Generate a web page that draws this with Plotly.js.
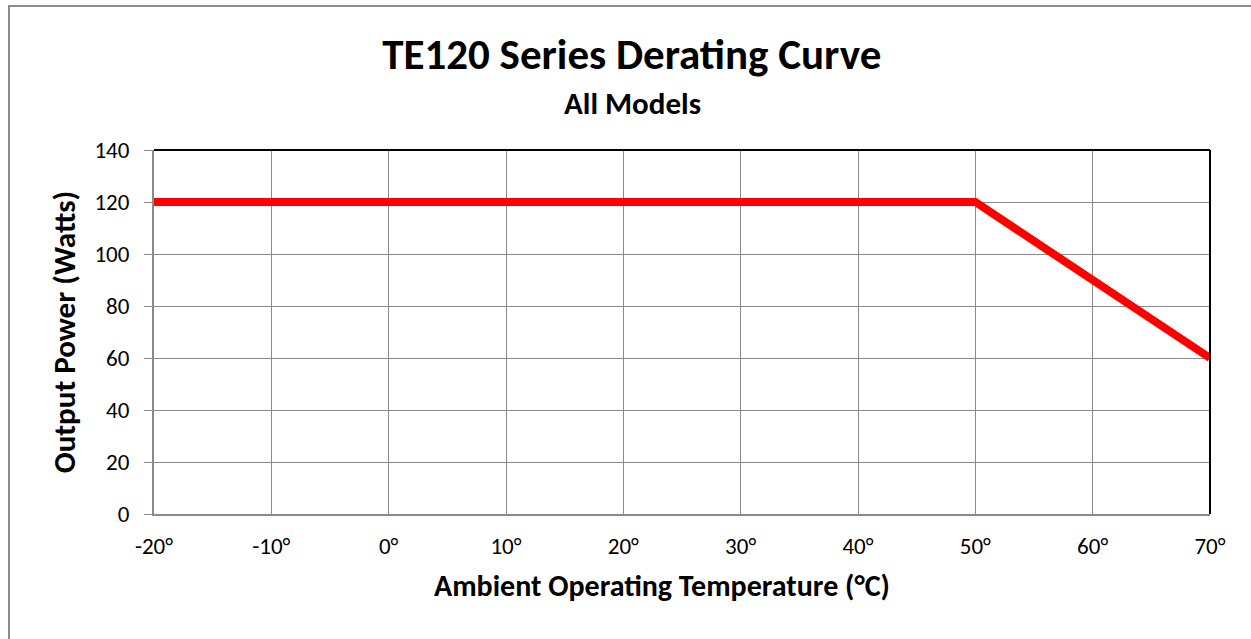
<!DOCTYPE html>
<html>
<head>
<meta charset="utf-8">
<script src="https://cdn.plot.ly/plotly-3.0.1.min.js"></script>
<style>
html,body{margin:0;padding:0;overflow:hidden;background:#fff;}
#chart{width:1251px;height:639px;}
#frame{position:absolute;left:8px;top:5px;width:1400px;height:800px;border:2px solid #8c8c8c;pointer-events:none;}
</style>
</head>
<body>
<div id="chart"></div>
<div id="frame"></div>
<script>
const temperature = [-20, 50, 70];
const outputPower = [120, 120, 60];
const xTickVals = [-20, -10, 0, 10, 20, 30, 40, 50, 60, 70];
const xTickText = ['-20°', '-10°', '0°', '10°', '20°', '30°', '40°', '50°', '60°', '70°'];
const yTickVals = [0, 20, 40, 60, 80, 100, 120, 140];

const FONT = 'Carlito, Lato, "Open Sans", sans-serif';

const trace = {
  x: temperature,
  y: outputPower,
  type: 'scatter',
  mode: 'lines',
  line: {color: '#ff0000', width: 8},
  hoverinfo: 'x+y',
  cliponaxis: true
};

const layout = {
  width: 1251,
  height: 639,
  paper_bgcolor: '#ffffff',
  plot_bgcolor: '#ffffff',
  margin: {l: 154, r: 41, t: 150, b: 125},
  showlegend: false,
  font: {family: FONT, color: '#000000'},
  title: {
    text: '<b>TE120 Series Derating Curve</b>',
    font: {family: FONT, size: 43, color: '#000'},
    x: 0.505, xref: 'container', xanchor: 'center',
    y: 1 - 54/639, yref: 'container', yanchor: 'middle'
  },
  xaxis: {
    range: [-20, 70],
    tickvals: xTickVals,
    ticktext: xTickText,
    tickfont: {family: FONT, size: 23, color: '#000'},
    showgrid: true,
    gridcolor: '#8a8a8a',
    gridwidth: 1,
    zeroline: false,
    showline: true,
    linecolor: '#8a8a8a',
    linewidth: 2,
    ticks: '',
    ticklabelstandoff: 10,
    fixedrange: true
  },
  yaxis: {
    range: [0, 140],
    tickvals: yTickVals,
    tickfont: {family: FONT, size: 23, color: '#000'},
    showgrid: true,
    gridcolor: '#8a8a8a',
    gridwidth: 1,
    zeroline: false,
    showline: true,
    linecolor: '#8a8a8a',
    linewidth: 2,
    ticks: 'outside',
    ticklen: 8,
    tickcolor: '#8a8a8a',
    tickwidth: 1,
    ticklabelstandoff: 10,
    title: {
      text: '<b>Output Power (Watts)</b>',
      font: {family: FONT, size: 31, color: '#000'},
      standoff: 10
    },
    fixedrange: true
  },
  annotations: [
    {
      text: '<b>All Models</b>',
      xref: 'paper', yref: 'paper',
      x: (632 - 154) / 1056, y: 1 + (150 - 103) / 364,
      xanchor: 'center', yanchor: 'middle',
      showarrow: false,
      font: {family: FONT, size: 31, color: '#000'}
    },
    {
      text: '<b>Ambient Operating Temperature (°C)</b>',
      xref: 'paper', yref: 'paper',
      x: (662 - 154) / 1056, y: -(585 - 514) / 364,
      xanchor: 'center', yanchor: 'middle',
      showarrow: false,
      font: {family: FONT, size: 30, color: '#000'}
    }
  ],
  shapes: [
    {type: 'line', xref: 'paper', yref: 'paper', x0: 0, x1: 1, y0: 1, y1: 1,
     line: {color: '#000000', width: 2}},
    {type: 'line', xref: 'paper', yref: 'paper', x0: 1, x1: 1, y0: 0, y1: 1,
     line: {color: '#000000', width: 2}}
  ]
};

Plotly.newPlot('chart', [trace], layout, {displayModeBar: false, staticPlot: true});
</script>
</body>
</html>
